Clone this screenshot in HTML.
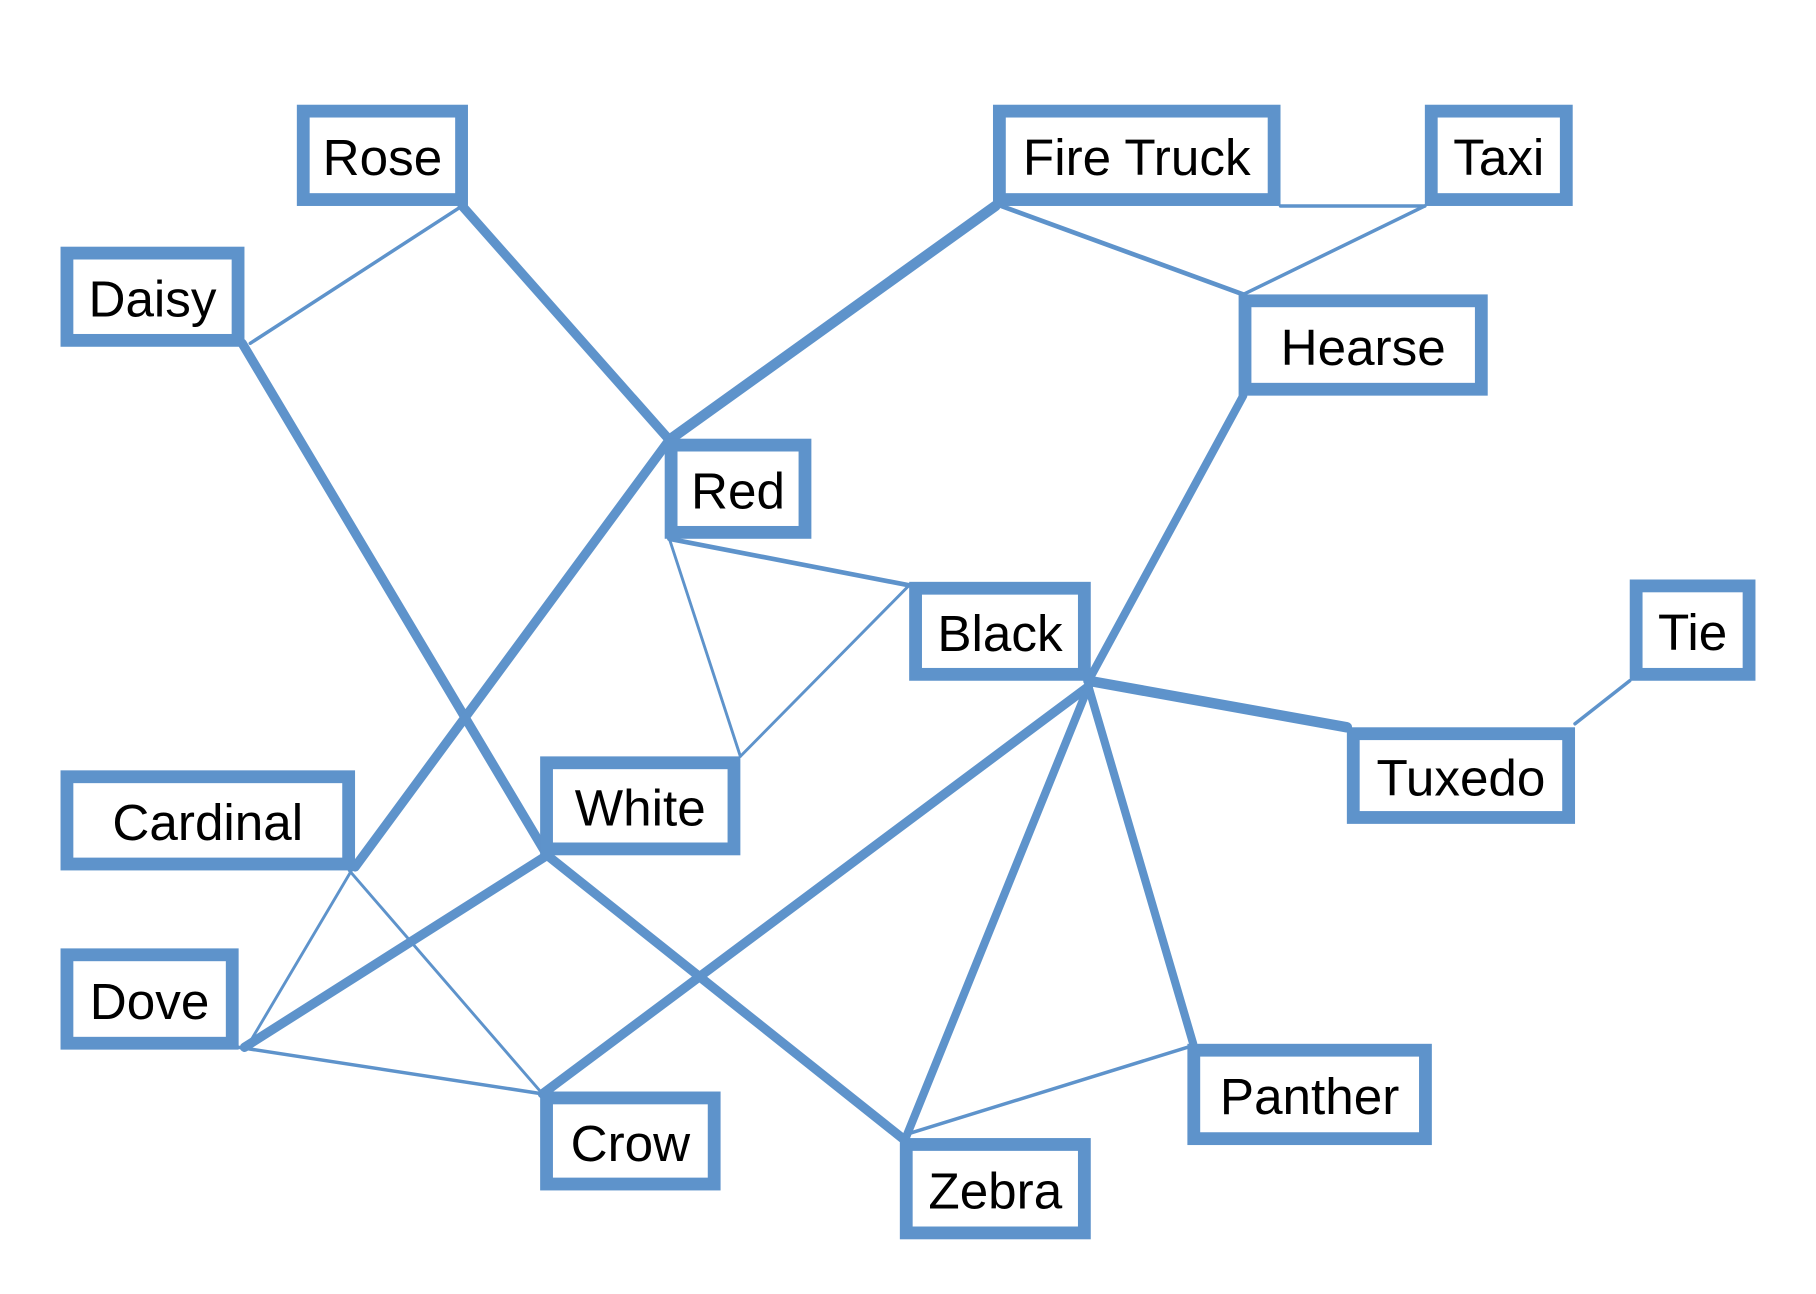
<!DOCTYPE html>
<html><head><meta charset="utf-8"><style>
html,body{margin:0;padding:0;background:#fff;}
svg{display:block;}
</style></head><body>
<svg id="g" width="1816" height="1294" viewBox="0 0 1560 1112" preserveAspectRatio="none" xmlns="http://www.w3.org/2000/svg">
<g id="edges"></g>
<g id="nodes"></g>
</svg>
<script>
const nodeNames = ["Rose","Daisy","Fire Truck","Taxi","Hearse","Red","Black","Tie","Tuxedo","Cardinal","White","Dove","Crow","Zebra","Panther"];
const nodeBoxes = [
 [255,90,402,177],[52,212,210,298],[853,90,1100,177],[1224,90,1351,177],[1064,253,1278,340],
 [571,377,697,463],[781,500,937,585],[1400,498,1508,585],[1157,625,1353,708],[52,662,305,748],
 [464,650,636,735],[52,815,205,902],[464,938,619,1023],[773,978,937,1065],[1020,897,1230,984]
];
const edges = [
 [[397,177],[215,295],3],
 [[397,177],[575,378],8],
 [[208,295],[470,735],8],
 [[470,735],[775,978],8],
 [[855,177],[575,378],9],
 [[575,378],[305,745],8],
 [[302,748],[215,895],2.5],
 [[860,177],[1068,253],4],
 [[1100,177],[1224,177],3],
 [[1224,177],[1068,253],3],
 [[1068,340],[935,585],7],
 [[575,463],[781,503],4],
 [[575,463],[636,650],2.5],
 [[781,503],[636,650],2.5],
 [[935,585],[1157,625],9],
 [[1400,585],[1353,622],3],
 [[935,590],[466,940],8],
 [[935,590],[778,978],7],
 [[935,590],[1025,897],7],
 [[778,975],[1020,900],3],
 [[470,735],[210,900],8],
 [[300,748],[466,940],2.5],
 [[205,900],[466,940],3]
];
const NS="http://www.w3.org/2000/svg";
const color="#5e93cb";
const eg=document.getElementById('edges');
edges.forEach((e,i)=>{
  const l=document.createElementNS(NS,'line');
  
  
  l.setAttribute('x1',e[0][0]);l.setAttribute('y1',e[0][1]);
  l.setAttribute('x2',e[1][0]);l.setAttribute('y2',e[1][1]);
  l.setAttribute('stroke',color);l.setAttribute('stroke-width',e[2]);
  l.setAttribute('stroke-linecap','round');
  eg.appendChild(l);
});
const ng=document.getElementById('nodes');
nodeNames.forEach((n,i)=>{
  const b=nodeBoxes[i];
  const g=document.createElementNS(NS,'g');
  
  
  const r=document.createElementNS(NS,'rect');
  
  
  const bw=11;
  r.setAttribute('x',b[0]+bw/2);r.setAttribute('y',b[1]+bw/2);
  r.setAttribute('width',b[2]-b[0]-bw);r.setAttribute('height',b[3]-b[1]-bw);
  r.setAttribute('fill','#fff');r.setAttribute('stroke',color);r.setAttribute('stroke-width',bw);
  g.appendChild(r);
  const t=document.createElementNS(NS,'text');
  
  
  t.setAttribute('x',(b[0]+b[2])/2);t.setAttribute('y',(b[1]+b[3])/2+17);
  t.setAttribute('text-anchor','middle');
  t.setAttribute('font-family','Liberation Sans, sans-serif');
  t.setAttribute('font-size','44');t.setAttribute('fill','#000');
  t.textContent=n;
  g.appendChild(t);
  ng.appendChild(g);
});
</script>
</body></html>
